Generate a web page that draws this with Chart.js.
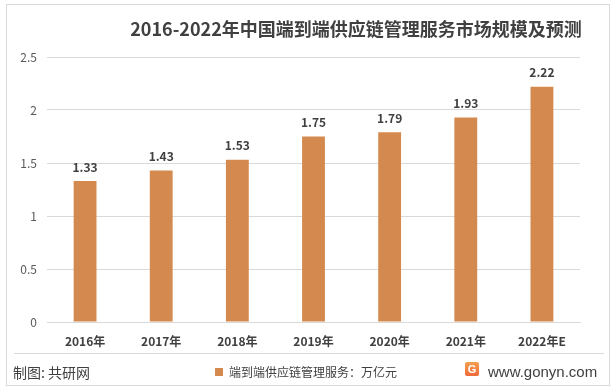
<!DOCTYPE html>
<html>
<head>
<meta charset="utf-8">
<script src="https://cdn.jsdelivr.net/npm/chart.js@4/dist/chart.umd.min.js"></script>
<style>
  html, body { margin: 0; padding: 0; background: #fff; }
  #wrap { position: relative; width: 616px; height: 392px; }
  #frame { position: absolute; left: 6px; top: 4px; width: 604px; height: 382px; border: 1px solid #d9d9d9; box-sizing: border-box; }
  #title { position: absolute; left: 120px; top: 16px; width: 472px; text-align: center; font: bold 18px "Noto Sans CJK SC", sans-serif; color: #404040; line-height: 24px; }
  #sep { position: absolute; left: 14px; top: 353px; width: 590px; height: 1px; background: #d9d9d9; }
  #src { position: absolute; left: 13px; top: 362px; font: 14px "Noto Sans CJK SC", sans-serif; color: #404040; line-height: 20px; }
  #site { position: absolute; left: 488px; top: 362px; font: 15px "Liberation Sans", sans-serif; color: #404040; line-height: 20px; }
  #logo { position: absolute; left: 465px; top: 362px; width: 14px; height: 14px; background: linear-gradient(#f6a04d, #ee6a3a); border-radius: 2px;
          color: #fff; font: bold 11px "Liberation Sans", sans-serif; text-align: center; line-height: 14px; }
  canvas { position: absolute; left: 0; top: 0; }
</style>
</head>
<body>
<div id="wrap">
  <div id="frame"></div>
  <canvas id="chart" width="616" height="392"></canvas>
  <div id="title">2016-2022年中国端到端供应链管理服务市场规模及预测</div>
  <div id="sep"></div>
  <div id="src">制图: 共研网</div>
  <div id="logo">G</div>
  <div id="site">www.gonyn.com</div>
</div>
<script>
const years = ['2016年', '2017年', '2018年', '2019年', '2020年', '2021年', '2022年E'];
const marketSize = [1.33, 1.43, 1.53, 1.75, 1.79, 1.93, 2.22];
const seriesName = '端到端供应链管理服务：万亿元';

const barColor = '#d48a4e';
const fontFamily = '"Noto Sans CJK SC", "Noto Sans", sans-serif';

// value above each bar
const valueLabels = {
    id: 'valueLabels',
    afterDatasetsDraw(chart) {
        const c = chart.ctx;
        const meta = chart.getDatasetMeta(0);
        c.save();
        c.font = 'bold 12px ' + fontFamily;
        c.fillStyle = '#404040';
        c.textAlign = 'center';
        c.textBaseline = 'middle';
        meta.data.forEach((bar, i) => {
            c.fillText(marketSize[i].toFixed(2), bar.x, bar.y - 14);
        });
        c.restore();
    }
};

// legend sits a bit right of the plot centre in the original
const legendShift = {
    id: 'legendShift',
    afterLayout(chart) {
        chart.legend.left += 16;
        chart.legend.right += 16;
    }
};

const ctx = document.getElementById('chart').getContext('2d');
new Chart(ctx, {
    type: 'bar',
    data: {
        labels: years,
        datasets: [{
            label: seriesName,
            data: marketSize,
            backgroundColor: barColor,
            categoryPercentage: 1,
            barPercentage: 0.3
        }]
    },
    options: {
        responsive: false,
        animation: false,
        layout: { padding: { left: 0, right: 36, top: 57, bottom: 4 } },
        scales: {
            x: {
                grid: { display: false },
                border: { display: true, color: '#d9d9d9' },
                ticks: { color: '#404040', font: { family: fontFamily, size: 12, weight: 'bold' }, padding: 4 },
                afterFit: scale => { scale.height = 36; }
            },
            y: {
                min: 0, max: 2.5,
                ticks: {
                    stepSize: 0.5, color: '#595959', font: { family: fontFamily, size: 12 }, padding: 10,
                    callback: v => String(v)
                },
                grid: { color: '#d9d9d9', drawTicks: false },
                border: { display: false },
                afterFit: scale => { scale.width = 47; }
            }
        },
        plugins: {
            title: { display: false },
            legend: {
                position: 'bottom',
                labels: {
                    color: '#404040',
                    font: { family: fontFamily, size: 12 },
                    boxWidth: 8, boxHeight: 8,
                    padding: 8
                }
            },
            tooltip: { enabled: false }
        }
    },
    plugins: [valueLabels, legendShift]
});
</script>
</body>
</html>
